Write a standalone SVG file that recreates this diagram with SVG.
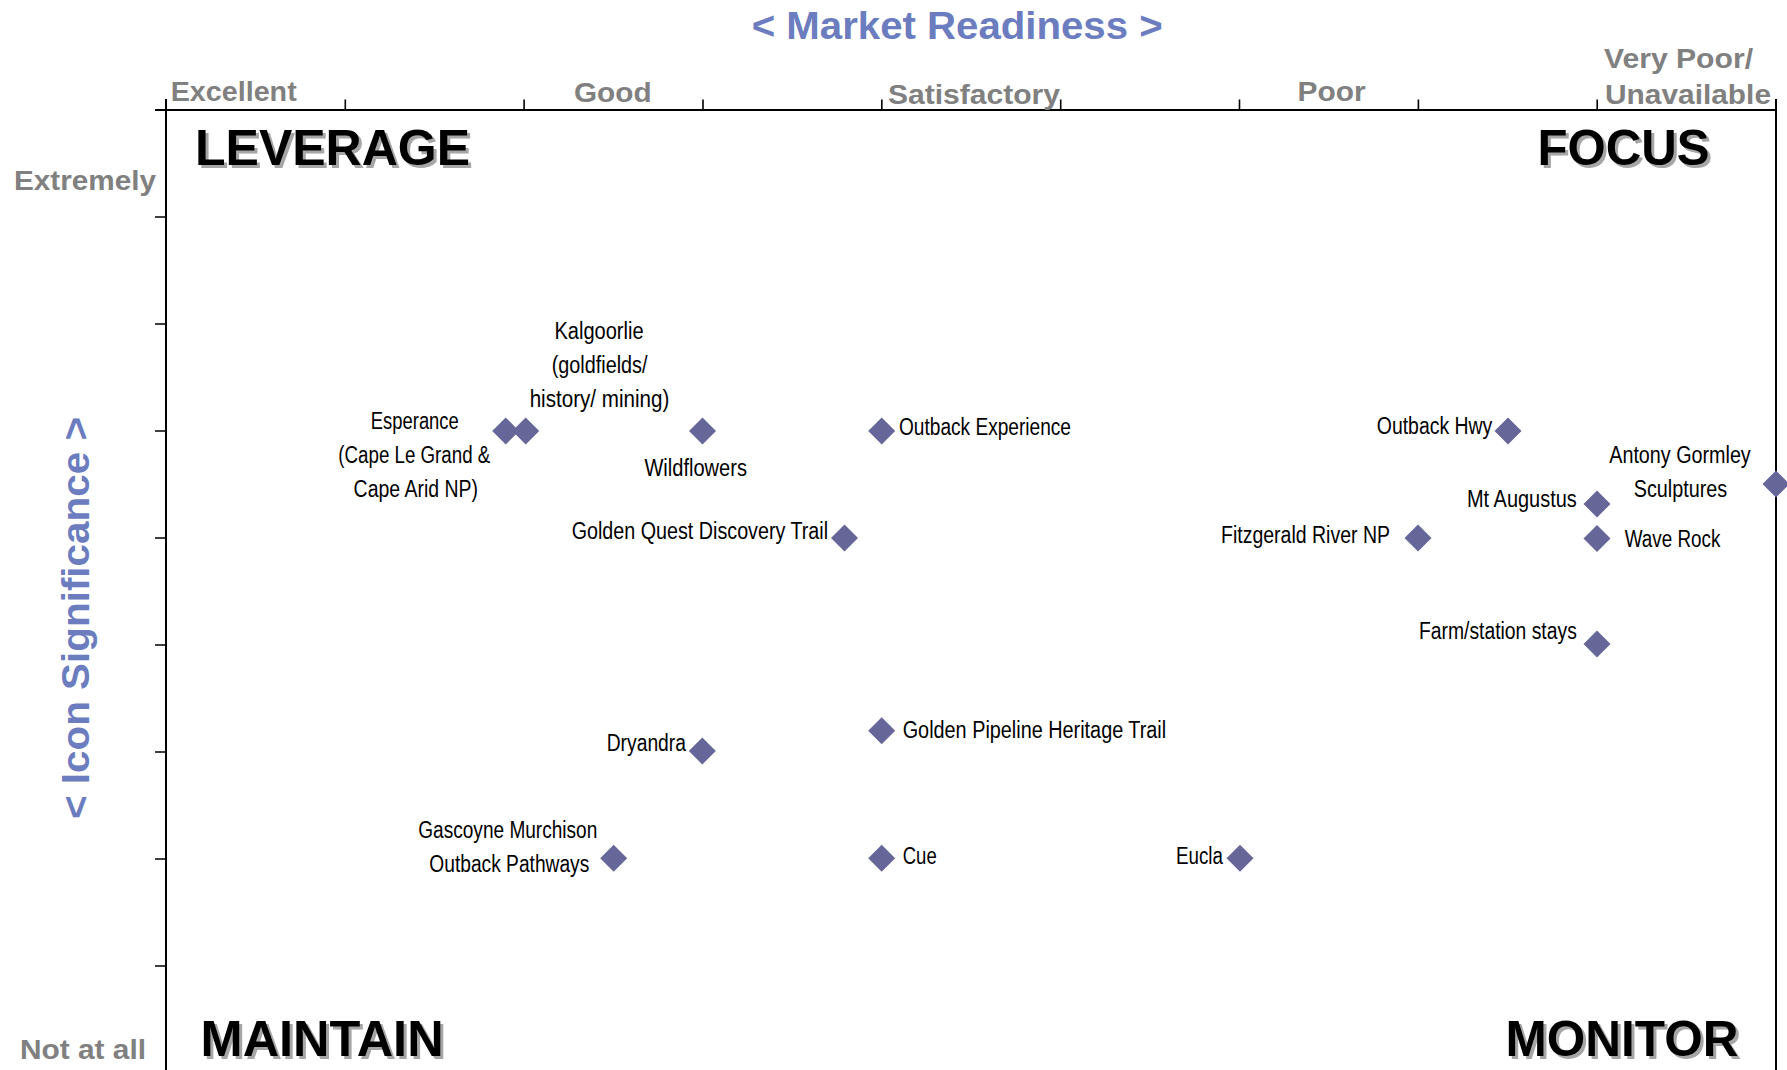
<svg xmlns="http://www.w3.org/2000/svg" xmlns:xlink="http://www.w3.org/1999/xlink" width="1787" height="1070" viewBox="0 0 1787 1070">
<style>
.lbl{font-family:"Liberation Sans Narrow","Arial Narrow","Liberation Sans",Arial,sans-serif;font-size:23px;fill:#000}
.ax{font-family:"Liberation Sans",Arial,sans-serif;font-weight:bold;font-size:28px;fill:#808080}
.ttl{font-family:"Liberation Sans",Arial,sans-serif;font-weight:bold;font-size:39px;fill:#6b7cbf}
.quad{font-family:"Liberation Sans",Arial,sans-serif;font-weight:bold;font-size:50px;fill:#000}
.shd{font-family:"Liberation Sans",Arial,sans-serif;font-weight:bold;font-size:50px;fill:#a6a6a6}
.axis{stroke:#000;stroke-width:2;fill:none}
.tick{stroke:#000;stroke-width:1.6;fill:none}
.pt{fill:#666699}
</style>
<defs>
<path id="dm" d="M0,-13.5 L13.5,0 L0,13.5 L-13.5,0Z"/>
</defs>
<rect width="1787" height="1070" fill="#fff"/>

<g id="axes">
<line class="axis" x1="155" y1="110" x2="1777" y2="110"/>
<line class="axis" x1="166" y1="99" x2="166" y2="1070"/>
<line class="axis" x1="1776" y1="99" x2="1776" y2="1070"/>
<path class="tick" d="M345.3,110V99.5M524.1,110V99.5M703,110V99.5M881.8,110V99.5M1060.7,110V99.5M1239.5,110V99.5M1418.4,110V99.5M1597.2,110V99.5"/>
<path class="tick" d="M155,217H166M155,324H166M155,431H166M155,538H166M155,645H166M155,752H166M155,859H166M155,966H166"/>
</g>

<g id="axis-labels">
<text class="ttl" x="751.7" y="39.3" textLength="411" lengthAdjust="spacingAndGlyphs">&lt; Market Readiness &gt;</text>
<text class="ttl" transform="translate(89,618) rotate(-90)" text-anchor="middle" textLength="402" lengthAdjust="spacingAndGlyphs">&lt; Icon Significance &gt;</text>
<text class="ax" x="170.7" y="100.5" textLength="126" lengthAdjust="spacingAndGlyphs">Excellent</text>
<text class="ax" x="574" y="101.5" textLength="77.6" lengthAdjust="spacingAndGlyphs">Good</text>
<text class="ax" x="888" y="104" textLength="172" lengthAdjust="spacingAndGlyphs">Satisfactory</text>
<text class="ax" x="1297.6" y="101" textLength="68" lengthAdjust="spacingAndGlyphs">Poor</text>
<text class="ax" x="1604" y="67.5" textLength="149" lengthAdjust="spacingAndGlyphs">Very Poor/</text>
<text class="ax" x="1605" y="104" textLength="166" lengthAdjust="spacingAndGlyphs">Unavailable</text>
<text class="ax" x="14" y="190" textLength="142" lengthAdjust="spacingAndGlyphs">Extremely</text>
<text class="ax" x="20" y="1059" textLength="126" lengthAdjust="spacingAndGlyphs">Not at all</text>
</g>

<g id="quadrants">
<g id="q-leverage">
<text class="shd" x="198" y="168" textLength="275" lengthAdjust="spacingAndGlyphs">LEVERAGE</text>
<text class="quad" x="195" y="165" textLength="275" lengthAdjust="spacingAndGlyphs">LEVERAGE</text>
</g>
<g id="q-focus">
<text class="shd" x="1540.5" y="168" textLength="172" lengthAdjust="spacingAndGlyphs">FOCUS</text>
<text class="quad" x="1537.5" y="165" textLength="172" lengthAdjust="spacingAndGlyphs">FOCUS</text>
</g>
<g id="q-maintain">
<text class="shd" x="203.6" y="1059" textLength="243" lengthAdjust="spacingAndGlyphs">MAINTAIN</text>
<text class="quad" x="200.6" y="1056" textLength="243" lengthAdjust="spacingAndGlyphs">MAINTAIN</text>
</g>
<g id="q-monitor">
<text class="shd" x="1508.5" y="1059" textLength="233" lengthAdjust="spacingAndGlyphs">MONITOR</text>
<text class="quad" x="1505.5" y="1056" textLength="233" lengthAdjust="spacingAndGlyphs">MONITOR</text>
</g>
</g>

<g id="points">
<g id="esperance">
<use xlink:href="#dm" href="#dm" class="pt" x="505.7" y="431"/>
<text class="lbl" text-anchor="middle" x="414.8" y="429.3" textLength="88" lengthAdjust="spacingAndGlyphs">Esperance</text>
<text class="lbl" text-anchor="middle" x="414.3" y="463.3" textLength="152" lengthAdjust="spacingAndGlyphs">(Cape Le Grand &amp;</text>
<text class="lbl" text-anchor="middle" x="415.8" y="497" textLength="124.4" lengthAdjust="spacingAndGlyphs">Cape Arid NP)</text>
</g>
<g id="kalgoorlie">
<use xlink:href="#dm" href="#dm" class="pt" x="525.7" y="431"/>
<text class="lbl" text-anchor="middle" x="599" y="339.3" textLength="89.2" lengthAdjust="spacingAndGlyphs">Kalgoorlie</text>
<text class="lbl" text-anchor="middle" x="599.6" y="373.3" textLength="95.7" lengthAdjust="spacingAndGlyphs">(goldfields/</text>
<text class="lbl" text-anchor="middle" x="599.5" y="407" textLength="139.7" lengthAdjust="spacingAndGlyphs">history/ mining)</text>
</g>
<g id="wildflowers">
<use xlink:href="#dm" href="#dm" class="pt" x="702.5" y="431"/>
<text class="lbl" text-anchor="middle" x="695.7" y="475.7" textLength="102.6" lengthAdjust="spacingAndGlyphs">Wildflowers</text>
</g>
<g id="outback-experience">
<use xlink:href="#dm" href="#dm" class="pt" x="881.7" y="431"/>
<text class="lbl" x="899" y="435" textLength="172" lengthAdjust="spacingAndGlyphs">Outback Experience</text>
</g>
<g id="golden-quest">
<use xlink:href="#dm" href="#dm" class="pt" x="844.5" y="538"/>
<text class="lbl" x="571.7" y="539.3" textLength="256.4" lengthAdjust="spacingAndGlyphs">Golden Quest Discovery Trail</text>
</g>
<g id="outback-hwy">
<use xlink:href="#dm" href="#dm" class="pt" x="1508" y="431"/>
<text class="lbl" x="1376.8" y="433.5" textLength="115.5" lengthAdjust="spacingAndGlyphs">Outback Hwy</text>
</g>
<g id="antony-gormley">
<use xlink:href="#dm" href="#dm" class="pt" x="1776" y="484"/>
<text class="lbl" text-anchor="middle" x="1680" y="462.7" textLength="141.5" lengthAdjust="spacingAndGlyphs">Antony Gormley</text>
<text class="lbl" text-anchor="middle" x="1680.5" y="496.7" textLength="93.5" lengthAdjust="spacingAndGlyphs">Sculptures</text>
</g>
<g id="mt-augustus">
<use xlink:href="#dm" href="#dm" class="pt" x="1597" y="504"/>
<text class="lbl" x="1467" y="506.7" textLength="109.8" lengthAdjust="spacingAndGlyphs">Mt Augustus</text>
</g>
<g id="fitzgerald">
<use xlink:href="#dm" href="#dm" class="pt" x="1418" y="538"/>
<text class="lbl" x="1221" y="543.3" textLength="169" lengthAdjust="spacingAndGlyphs">Fitzgerald River NP</text>
</g>
<g id="wave-rock">
<use xlink:href="#dm" href="#dm" class="pt" x="1597" y="538.5"/>
<text class="lbl" x="1624.8" y="547.3" textLength="95.5" lengthAdjust="spacingAndGlyphs">Wave Rock</text>
</g>
<g id="farm-station">
<use xlink:href="#dm" href="#dm" class="pt" x="1597" y="644"/>
<text class="lbl" x="1419" y="639.3" textLength="157.8" lengthAdjust="spacingAndGlyphs">Farm/station stays</text>
</g>
<g id="golden-pipeline">
<use xlink:href="#dm" href="#dm" class="pt" x="881.7" y="730.7"/>
<text class="lbl" x="902.7" y="737.7" textLength="263.5" lengthAdjust="spacingAndGlyphs">Golden Pipeline Heritage Trail</text>
</g>
<g id="dryandra">
<use xlink:href="#dm" href="#dm" class="pt" x="702.3" y="751"/>
<text class="lbl" x="606.7" y="751" textLength="79.3" lengthAdjust="spacingAndGlyphs">Dryandra</text>
</g>
<g id="gascoyne">
<use xlink:href="#dm" href="#dm" class="pt" x="613.7" y="858.3"/>
<text class="lbl" text-anchor="middle" x="507.8" y="837.7" textLength="179" lengthAdjust="spacingAndGlyphs">Gascoyne Murchison</text>
<text class="lbl" text-anchor="middle" x="509.3" y="871.7" textLength="160" lengthAdjust="spacingAndGlyphs">Outback Pathways</text>
</g>
<g id="cue">
<use xlink:href="#dm" href="#dm" class="pt" x="881.7" y="858.3"/>
<text class="lbl" x="902.7" y="864.3" textLength="34" lengthAdjust="spacingAndGlyphs">Cue</text>
</g>
<g id="eucla">
<use xlink:href="#dm" href="#dm" class="pt" x="1240" y="858.3"/>
<text class="lbl" x="1176" y="864.3" textLength="47" lengthAdjust="spacingAndGlyphs">Eucla</text>
</g>
</g>
<g id="connectors"/>
</svg>
